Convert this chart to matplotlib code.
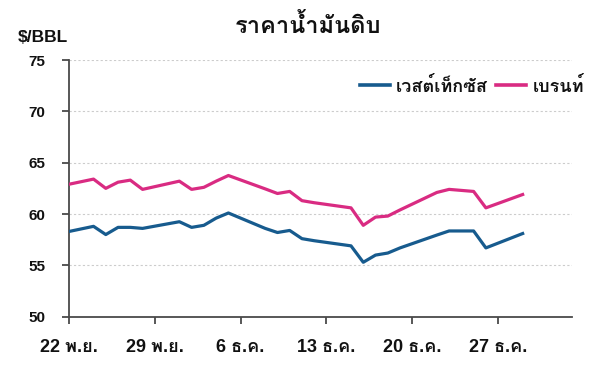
import numpy as np
import matplotlib
matplotlib.use("Agg")
import matplotlib.pyplot as plt
from matplotlib import font_manager as fm

# ---------------- data ----------------
dates = np.array([
    "2025-11-22", "2025-11-24", "2025-11-25", "2025-11-26", "2025-11-27", "2025-11-28",
    "2025-12-01", "2025-12-02", "2025-12-03", "2025-12-04", "2025-12-05",
    "2025-12-08", "2025-12-09", "2025-12-10", "2025-12-11", "2025-12-12",
    "2025-12-15", "2025-12-16", "2025-12-17", "2025-12-18", "2025-12-19",
    "2025-12-22", "2025-12-23", "2025-12-24", "2025-12-25", "2025-12-26",
    "2025-12-29"], dtype="datetime64[D]")

wti = [58.3, 58.8, 58.0, 58.7, 58.7, 58.6,
       59.25, 58.7, 58.9, 59.6, 60.1,
       58.6, 58.2, 58.4, 57.6, 57.4,
       56.9, 55.3, 56.0, 56.2, 56.7,
       57.95, 58.35, 58.35, 58.35, 56.7,
       58.1]

brent = [62.9, 63.4, 62.5, 63.1, 63.3, 62.4,
         63.2, 62.4, 62.6, 63.2, 63.75,
         62.45, 62.0, 62.2, 61.3, 61.1,
         60.6, 58.9, 59.7, 59.8, 60.4,
         62.1, 62.4, 62.3, 62.2, 60.6,
         61.9]

series_names = ["เวสต์เท็กซัส", "เบรนท์"]
title = "ราคาน้ำมันดิบ"
unit_label = "$/BBL"
tick_dates = np.array(["2025-11-22", "2025-11-29", "2025-12-06",
                       "2025-12-13", "2025-12-20", "2025-12-27"], dtype="datetime64[D]")
tick_labels = ["22 พ.ย.", "29 พ.ย.", "6 ธ.ค.", "13 ธ.ค.", "20 ธ.ค.", "27 ธ.ค."]
y_ticks = [50, 55, 60, 65, 70, 75]

# ---------------- font (find one with Thai glyphs) ----------------
def find_thai_font():
    try:
        from fontTools.ttLib import TTFont
    except Exception:
        return None
    names = []
    for f in fm.fontManager.ttflist:
        try:
            tt = TTFont(f.fname, fontNumber=0, lazy=True)
            cmap = tt.getBestCmap()
            if cmap and 0x0E23 in cmap and 0x0E49 in cmap and 0x0E33 in cmap:
                names.append(f.name)
        except Exception:
            pass
    return names[0] if names else None

thai = find_thai_font()
latin = "Liberation Sans"
fam_mixed = [latin] + ([thai] if thai else []) + ["DejaVu Sans"]
fam_thai = ([thai] if thai else []) + [latin, "DejaVu Sans"]
plt.rcParams["font.family"] = fam_mixed

blue = "#175b8e"
pink = "#d92b82"
axis_col = "#4a4a4a"
text_col = "#111111"

W, H = 600, 368
fig = plt.figure(figsize=(W / 100, H / 100), dpi=100)
ax = fig.add_axes([69 / W, 1 - 316.7 / H, (571.7 - 69) / W, (316.7 - 60) / H])

def to_obj(a):
    return a.astype("datetime64[ms]").astype(object)

x = to_obj(dates)
ax.plot(x, wti, color=blue, lw=2.3, solid_joinstyle="round", label=series_names[0], zorder=3)
ax.plot(x, brent, color=pink, lw=2.3, solid_joinstyle="round", label=series_names[1], zorder=3)

ax.set_ylim(50, 75)
ax.set_yticks(y_ticks)
ax.set_yticklabels([str(v) for v in y_ticks])
ax.set_xlim(to_obj(np.datetime64("2025-11-22")), to_obj(np.datetime64("2026-01-02")))
ax.set_xticks(to_obj(tick_dates))
ax.set_xticklabels(tick_labels)

for v in y_ticks[1:]:
    ax.axhline(v, color="#cccccc", lw=0.8, ls=(0, (2, 2)), zorder=1)

for s in ["top", "right"]:
    ax.spines[s].set_visible(False)
for s in ["left", "bottom"]:
    ax.spines[s].set_color(axis_col)
    ax.spines[s].set_linewidth(1.3)

ax.tick_params(axis="both", direction="out", length=5, width=1.3, color=axis_col,
               labelcolor=text_col)
ax.tick_params(axis="y", labelsize=11, pad=12)
ax.tick_params(axis="x", labelsize=13, pad=11)
for lab in ax.get_xticklabels() + ax.get_yticklabels():
    lab.set_fontweight("bold")

fig.text(308 / W, 1 - 26 / H, title, ha="center", va="center", fontsize=17,
         fontweight="bold", color=text_col, family=fam_thai)
fig.text(18 / W, 1 - 37 / H, unit_label, ha="left", va="center", fontsize=12.5,
         fontweight="bold", color=text_col, family=[latin, "DejaVu Sans"])

leg = fig.legend(loc="center left", bbox_to_anchor=(360 / W, 1 - 86 / H), ncol=2,
                 frameon=False, borderpad=0, borderaxespad=0,
                 handlelength=1.65, handletextpad=0.35, columnspacing=0.45,
                 prop={"size": 13, "weight": "bold", "family": fam_thai})
for t in leg.get_texts():
    t.set_color(text_col)
for h in leg.get_lines():
    h.set_linewidth(2.6)

fig.savefig("out.png", dpi=100)
